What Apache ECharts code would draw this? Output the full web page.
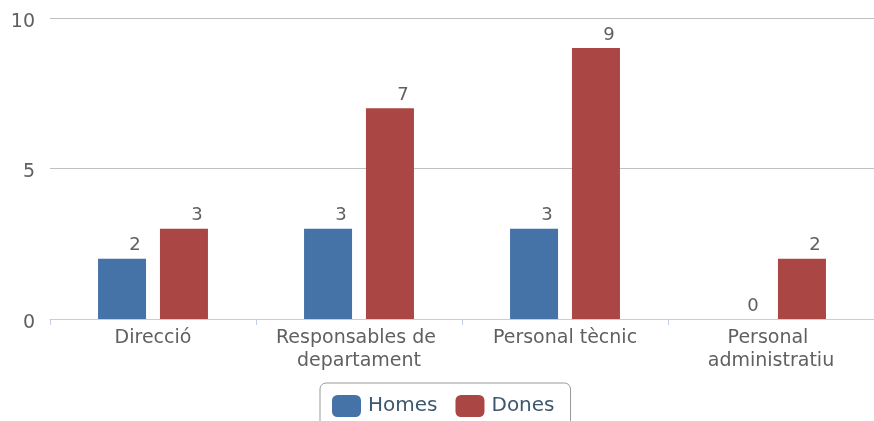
<!DOCTYPE html>
<html>
<head>
<meta charset="utf-8">
<script src="https://cdn.jsdelivr.net/npm/echarts@6/dist/echarts.min.js"></script>
<style>
  html, body { margin: 0; padding: 0; background: #fff; }
  #chart { width: 874px; height: 421px; }
</style>
</head>
<body>
<div id="chart"></div>
<script>
var categories = ["Direcció", "Responsables de departament", "Personal tècnic", "Personal administratiu"];
var homes = [2, 3, 3, 0];
var dones = [3, 7, 9, 2];

var font = "'DejaVu Sans', sans-serif";
var chart = echarts.init(document.getElementById("chart"));

var barLabel = {
  show: true,
  position: "top",
  offset: [13, 0],
  distance: 4,
  color: "#606060",
  fontFamily: font,
  fontSize: 18
};

var option = {
  animation: false,
  textStyle: { fontFamily: font },
  grid: { left: 50, right: 0, top: 18, bottom: 102 },
  legend: {
    left: 320,
    top: 383,
    padding: [12, 16, 20, 12],
    itemWidth: 29,
    itemHeight: 22,
    itemGap: 18,
    borderColor: "#999",
    borderWidth: 1,
    borderRadius: 6,
    icon: "roundRect",
    textStyle: { color: "#3e576f", fontSize: 20, fontFamily: font, padding: [0, 0, 0, 2] },
    data: ["Homes", "Dones"]
  },
  xAxis: {
    type: "category",
    data: categories,
    axisLine: { lineStyle: { color: "#c0d0e0", width: 1 } },
    axisTick: { show: true, interval: 0, length: 6, lineStyle: { color: "#c0d0e0" } },
    axisLabel: {
      interval: 0,
      color: "#606060",
      fontSize: 19,
      fontFamily: font,
      margin: 8,
      width: 185,
      overflow: "break",
      lineHeight: 23
    }
  },
  yAxis: {
    type: "value",
    min: 0,
    max: 10,
    interval: 5,
    axisLine: { show: false },
    axisTick: { show: false },
    axisLabel: {
      margin: 15,
      formatter: "{v|{value}}",
      rich: {
        v: { color: "#606060", fontSize: 19, fontFamily: font, padding: [8, 0, 0, 0] }
      }
    },
    splitLine: { lineStyle: { color: "#c0c0c0", width: 1 } }
  },
  series: [
    {
      name: "Homes",
      type: "bar",
      data: homes,
      barWidth: 48,
      barGap: "29%",
      itemStyle: { color: "#4572a7" },
      label: barLabel
    },
    {
      name: "Dones",
      type: "bar",
      data: dones,
      barWidth: 48,
      itemStyle: { color: "#aa4643" },
      label: barLabel
    }
  ]
};

chart.setOption(option);
</script>
</body>
</html>
